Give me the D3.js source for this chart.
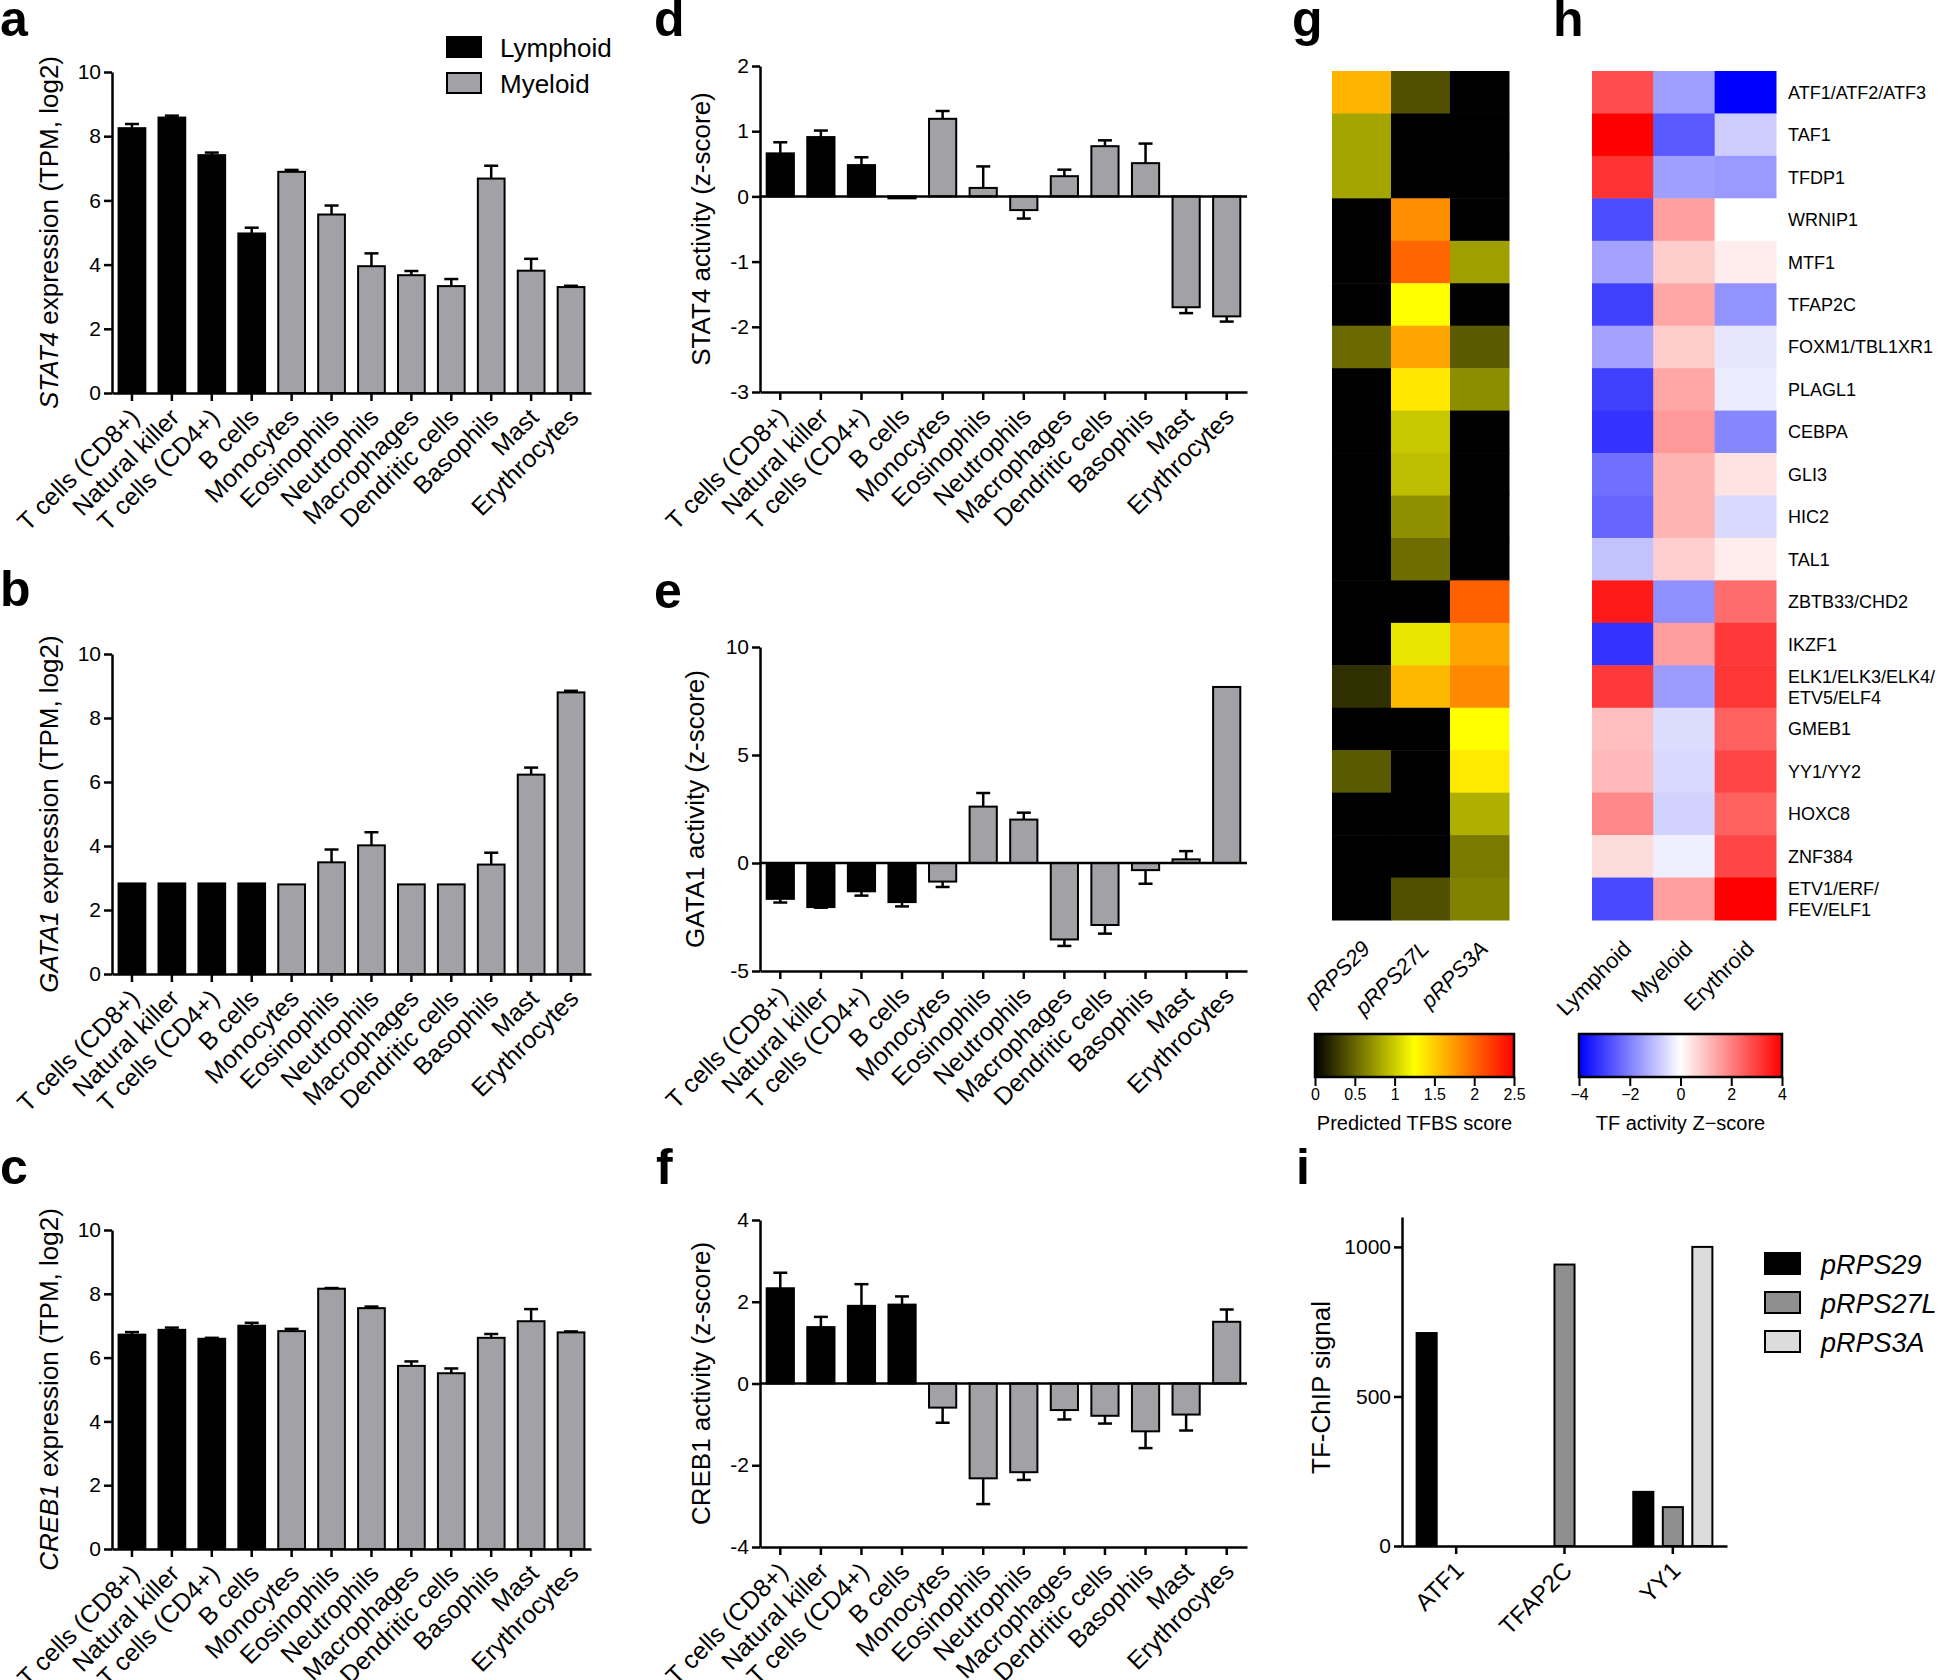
<!DOCTYPE html>
<html>
<head>
<meta charset="utf-8">
<script src="https://cdn.jsdelivr.net/npm/d3@7"></script>
<style>
  body { margin: 0; background: #fff; }
  svg text { font-family: "Liberation Sans", Arial, Helvetica, sans-serif; fill: #000; }
</style>
</head>
<body>
<svg id="fig"></svg>
<script>
// Data
const cellTypes = ["T cells (CD8+)", "Natural killer", "T cells (CD4+)", "B cells", "Monocytes",
  "Eosinophils", "Neutrophils", "Macrophages", "Dendritic cells", "Basophils", "Mast", "Erythrocytes"]
const lineage = ["Lymphoid", "Lymphoid", "Lymphoid", "Lymphoid", "Myeloid", "Myeloid",
  "Myeloid", "Myeloid", "Myeloid", "Myeloid", "Myeloid", "Myeloid"]

const stat4Expr = [8.25, 8.58, 7.41, 4.97, 6.89, 5.56, 3.95, 3.67, 3.33, 6.68, 3.81, 3.30]
const stat4ExprErr = [0.13, 0.06, 0.08, 0.18, 0.06, 0.28, 0.40, 0.13, 0.22, 0.40, 0.37, 0.04]
const gata1Expr = [2.83, 2.83, 2.83, 2.83, 2.80, 3.49, 4.02, 2.80, 2.80, 3.42, 6.23, 8.80]
const gata1ExprErr = [0, 0, 0, 0, 0, 0.40, 0.41, 0, 0, 0.37, 0.22, 0.05]
const creb1Expr = [6.72, 6.87, 6.59, 7.00, 6.83, 8.16, 7.55, 5.74, 5.51, 6.62, 7.14, 6.79]
const creb1ExprErr = [0.08, 0.07, 0.03, 0.09, 0.07, 0.02, 0.05, 0.14, 0.15, 0.12, 0.38, 0.03]

const stat4Act = [0.66, 0.91, 0.48, -0.03, 1.19, 0.13, -0.21, 0.31, 0.77, 0.51, -1.70, -1.84]
const stat4ActErr = [0.17, 0.10, 0.12, 0, 0.12, 0.33, 0.13, 0.10, 0.09, 0.30, 0.09, 0.08]
const gata1Act = [-1.66, -2.04, -1.31, -1.81, -0.86, 2.61, 2.01, -3.54, -2.87, -0.33, 0.17, 8.15]
const gata1ActErr = [0.17, 0.03, 0.20, 0.20, 0.25, 0.63, 0.32, 0.30, 0.40, 0.63, 0.38, 0]
const creb1Act = [2.33, 1.38, 1.90, 1.93, -0.59, -2.32, -2.17, -0.65, -0.79, -1.17, -0.76, 1.51]
const creb1ActErr = [0.38, 0.25, 0.53, 0.20, 0.37, 0.63, 0.19, 0.23, 0.19, 0.41, 0.39, 0.30]

const tfLabels = ["ATF1/ATF2/ATF3", "TAF1", "TFDP1", "WRNIP1", "MTF1", "TFAP2C", "FOXM1/TBL1XR1",
  "PLAGL1", "CEBPA", "GLI3", "HIC2", "TAL1", "ZBTB33/CHD2", "IKZF1", "ELK1/ELK3/ELK4/\nETV5/ELF4",
  "GMEB1", "YY1/YY2", "HOXC8", "ZNF384", "ETV1/ERF/\nFEV/ELF1"]
const promoters = ["pRPS29", "pRPS27L", "pRPS3A"]
const tfbsRPS29 = [1.62, 0.81, 0.81, 0, 0, 0, 0.52, 0, 0, 0, 0, 0, 0, 0, 0.23, 0, 0.44, 0, 0, 0]
const tfbsRPS27L = [0.39, 0, 0, 1.81, 2.0, 1.25, 1.69, 1.37, 0.98, 0.93, 0.70, 0.54, 0, 1.13, 1.6, 0, 0, 0, 0, 0.39]
const tfbsRPS3A = [0, 0, 0, 0, 0.78, 0, 0.44, 0.69, 0, 0, 0, 0, 2.03, 1.69, 1.83, 1.25, 1.36, 0.86, 0.6, 0.63]

const lineages = ["Lymphoid", "Myeloid", "Erythroid"]
const zLymphoid = [2.8, 4.0, 3.2, -2.8, -1.45, -3.0, -1.45, -3.0, -3.2, -2.25, -2.4, -0.95, 3.6, -3.2, 3.1, 1.0, 1.1, 1.85, 0.55, -2.85]
const zMyeloid = [-1.5, -2.6, -1.5, 1.5, 0.8, 1.4, 0.8, 1.4, 1.6, 1.2, 1.2, 0.75, -1.75, 1.55, -1.55, -0.55, -0.6, -0.7, -0.25, 1.5]
const zErythroid = [-4.0, -0.8, -1.6, 0, 0.3, -1.7, -0.4, -0.3, -1.9, 0.45, -0.6, 0.3, 2.3, 3.1, 3.15, 2.5, 2.9, 2.5, 2.9, 4.0]

const chipTFs = ["ATF1", "TFAP2C", "YY1"]
const chipRPS29 = [712, 0, 181]
const chipRPS27L = [0, 941, 130]
const chipRPS3A = [0, 0, 1000]

// Tick labels
const exprTicks = [0, 2, 4, 6, 8, 10]
const stat4ActTicks = [-3, -2, -1, 0, 1, 2]
const gata1ActTicks = [-5, 0, 5, 10]
const creb1ActTicks = [-4, -2, 0, 2, 4]
const chipTicks = [0, 500, 1000]
const tfbsTicks = [0, 0.5, 1, 1.5, 2, 2.5]
const zTicks = [-4, -2, 0, 2, 4]

// Styles
const W = 1943, H = 1680
const lymphColor = "#000000"
const myeloColor = "#a2a2a6"
const chipColors = ["#000000", "#8f8f8f", "#dcdcdc"]
const axisWidth = 2.5

const svg = d3.select("#fig").attr("width", W).attr("height", H)

function styleAxis(sel) {
  sel.selectAll(".domain").attr("stroke", "#000").attr("stroke-width", axisWidth)
  sel.selectAll(".tick line").attr("stroke", "#000").attr("stroke-width", axisWidth)
  sel.selectAll(".tick text").style("font-size", "21px").attr("fill", "#000")
}

function drawBarPanel(opt) {
  const plot = svg.append("g")

  const x = d3.scaleBand()
      .domain(cellTypes)
      .range([opt.left, opt.right])
      .paddingInner(0.33)
      .paddingOuter(0.165)
  const y = d3.scaleLinear()
      .domain(opt.domain)
      .range([opt.bottom, opt.top])

  const data = cellTypes.map((c, i) => ({ name: c, lineage: lineage[i], value: opt.values[i], err: opt.errs[i] }))

  // Bars
  plot.selectAll(".bar")
    .data(data)
    .enter().append("rect")
      .attr("x", d => x(d.name))
      .attr("width", x.bandwidth())
      .attr("y", d => Math.min(y(d.value), y(0)))
      .attr("height", d => Math.abs(y(d.value) - y(0)))
      .attr("fill", d => d.lineage === "Lymphoid" ? lymphColor : myeloColor)
      .attr("stroke", "#000")
      .attr("stroke-width", 2)

  // Error bars (one-sided, away from zero)
  const errData = data.filter(d => d.err > 0)
  const errEnd = d => d.value + (d.value < 0 ? -d.err : d.err)
  plot.selectAll(".err")
    .data(errData)
    .enter().append("line")
      .attr("x1", d => x(d.name) + x.bandwidth() / 2)
      .attr("x2", d => x(d.name) + x.bandwidth() / 2)
      .attr("y1", d => y(d.value))
      .attr("y2", d => y(errEnd(d)))
      .attr("stroke", "#000").attr("stroke-width", 2.5)
  plot.selectAll(".cap")
    .data(errData)
    .enter().append("line")
      .attr("x1", d => x(d.name) + x.bandwidth() / 2 - 7)
      .attr("x2", d => x(d.name) + x.bandwidth() / 2 + 7)
      .attr("y1", d => y(errEnd(d)))
      .attr("y2", d => y(errEnd(d)))
      .attr("stroke", "#000").attr("stroke-width", 2.5)

  // Zero line
  if (opt.domain[0] < 0) {
    plot.append("line")
      .attr("x1", opt.left).attr("x2", opt.right)
      .attr("y1", y(0)).attr("y2", y(0))
      .attr("stroke", "#000").attr("stroke-width", axisWidth)
  }

  // Y axis
  const yAxis = plot.append("g")
      .attr("transform", `translate(${opt.left},0)`)
      .call(d3.axisLeft(y)
        .tickValues(opt.ticks)
        .tickSize(8)
        .tickSizeOuter(0)
        .tickPadding(3)
        .tickFormat(d => String(d)))
  styleAxis(yAxis)

  // X axis
  const xAxis = plot.append("g")
      .attr("transform", `translate(0,${opt.bottom})`)
      .call(d3.axisBottom(x).tickSize(8).tickSizeOuter(0))
  styleAxis(xAxis)
  xAxis.selectAll(".tick text")
      .attr("x", null).attr("y", null).attr("dy", null)
      .attr("transform", "translate(9,26) rotate(-45)")
      .style("text-anchor", "end")
      .style("font-size", "25px")

  // Y title
  const title = plot.append("text")
      .attr("transform", `translate(${opt.titleX},${(opt.top + opt.bottom) / 2}) rotate(-90)`)
      .style("text-anchor", "middle")
      .style("font-size", "26px")
  if (opt.gene) {
    title.append("tspan").style("font-style", "italic").text(opt.gene)
    title.append("tspan").text(opt.title)
  } else {
    title.text(opt.title)
  }
}

// Panels a-c
drawBarPanel({ left: 112, right: 591, top: 72, bottom: 393, domain: [0, 10], ticks: exprTicks,
  values: stat4Expr, errs: stat4ExprErr, gene: "STAT4", title: " expression (TPM, log2)", titleX: 58 })
drawBarPanel({ left: 112, right: 591, top: 654, bottom: 974, domain: [0, 10], ticks: exprTicks,
  values: gata1Expr, errs: gata1ExprErr, gene: "GATA1", title: " expression (TPM, log2)", titleX: 58 })
drawBarPanel({ left: 112, right: 591, top: 1230, bottom: 1549, domain: [0, 10], ticks: exprTicks,
  values: creb1Expr, errs: creb1ExprErr, gene: "CREB1", title: " expression (TPM, log2)", titleX: 58 })

// Panels d-f
drawBarPanel({ left: 760, right: 1247, top: 66, bottom: 392, domain: [-3, 2], ticks: stat4ActTicks,
  values: stat4Act, errs: stat4ActErr, title: "STAT4 activity (z-score)", titleX: 710 })
drawBarPanel({ left: 760, right: 1247, top: 647, bottom: 971, domain: [-5, 10], ticks: gata1ActTicks,
  values: gata1Act, errs: gata1ActErr, title: "GATA1 activity (z-score)", titleX: 704 })
drawBarPanel({ left: 760, right: 1247, top: 1220, bottom: 1547, domain: [-4, 4], ticks: creb1ActTicks,
  values: creb1Act, errs: creb1ActErr, title: "CREB1 activity (z-score)", titleX: 710 })

// Legend for panel a
const legendA = svg.append("g")
const legendItems = ["Lymphoid", "Myeloid"]
legendItems.forEach((name, i) => {
  legendA.append("rect")
    .attr("x", 447).attr("y", 37 + i * 36).attr("width", 34).attr("height", 20)
    .attr("fill", i === 0 ? lymphColor : myeloColor)
    .attr("stroke", "#000").attr("stroke-width", 2)
  legendA.append("text")
    .attr("x", 500).attr("y", 57 + i * 36)
    .style("font-size", "26px")
    .text(name)
})

// Heatmaps g and h
const heatTop = 71, heatBottom = 920
const rowScale = d3.scaleBand().domain(d3.range(tfLabels.length)).range([heatTop, heatBottom])

const tfbsColor = d3.scaleLinear().domain([0, 1.25, 2.5]).range(["#000000", "#ffff00", "#ff0000"]).clamp(true)
const zColor = d3.scaleLinear().domain([-4, 0, 4]).range(["#0000ff", "#ffffff", "#ff0000"]).clamp(true)

function drawHeatmap(columns, columnData, left, right, color, italic) {
  const plot = svg.append("g")
  const colScale = d3.scaleBand().domain(columns).range([left, right])
  columns.forEach((col, c) => {
    plot.selectAll(".cell-" + c)
      .data(columnData[c])
      .enter().append("rect")
        .attr("x", colScale(col))
        .attr("y", (d, r) => rowScale(r))
        .attr("width", colScale.bandwidth() + 0.5)
        .attr("height", rowScale.bandwidth() + 0.5)
        .attr("fill", d => color(d))
  })
  plot.selectAll(".col-label")
    .data(columns)
    .enter().append("text")
      .attr("transform", d => `translate(${colScale(d) + colScale.bandwidth() / 2 + 10},${heatBottom + 30}) rotate(-45)`)
      .style("text-anchor", "end")
      .style("font-size", "22px")
      .style("font-style", italic ? "italic" : "normal")
      .text(d => d)
  return colScale
}

drawHeatmap(promoters, [tfbsRPS29, tfbsRPS27L, tfbsRPS3A], 1332, 1509, tfbsColor, true)
drawHeatmap(lineages, [zLymphoid, zMyeloid, zErythroid], 1592, 1776, zColor, false)

// Row labels for h
const rowLabels = svg.append("g")
tfLabels.forEach((label, r) => {
  const lines = label.split("\n")
  const cy = rowScale(r) + rowScale.bandwidth() / 2
  const t = rowLabels.append("text")
      .attr("x", 1788)
      .attr("y", cy - (lines.length - 1) * 10.5)
      .style("font-size", "18px")
  lines.forEach((line, k) => {
    t.append("tspan").attr("x", 1788).attr("dy", k === 0 ? "0.36em" : "21px").text(line)
  })
})

// Colour bars
function drawColorBar(id, scale, domain, ticks, left, right, title, fmt) {
  const top = 1034, bottom = 1077
  const grad = svg.append("defs").append("linearGradient").attr("id", id)
  d3.range(0, 1.0001, 0.05).forEach(t => {
    grad.append("stop")
      .attr("offset", t)
      .attr("stop-color", scale(domain[0] + t * (domain[1] - domain[0])))
  })
  svg.append("rect")
    .attr("x", left).attr("y", top).attr("width", right - left).attr("height", bottom - top)
    .attr("fill", `url(#${id})`)
    .attr("stroke", "#000").attr("stroke-width", 2.5)
  const xs = d3.scaleLinear().domain(domain).range([left, right])
  const ax = svg.append("g")
      .attr("transform", `translate(0,${bottom})`)
      .call(d3.axisBottom(xs).tickValues(ticks).tickSize(9).tickSizeOuter(0).tickPadding(3).tickFormat(fmt))
  ax.select(".domain").remove()
  ax.selectAll(".tick line").attr("stroke", "#000").attr("stroke-width", 2)
  ax.selectAll(".tick text").style("font-size", "16px").attr("fill", "#000")
  svg.append("text")
    .attr("x", (left + right) / 2).attr("y", 1130)
    .style("text-anchor", "middle")
    .style("font-size", "20px")
    .text(title)
}

drawColorBar("tfbsGrad", tfbsColor, [0, 2.5], tfbsTicks, 1315, 1514, "Predicted TFBS score", d => String(d))
drawColorBar("zGrad", zColor, [-4, 4], zTicks, 1579, 1782, "TF activity Z\u2212score", d => d < 0 ? "\u2212" + Math.abs(d) : String(d))

// Panel i
function drawChipPanel() {
  const plot = svg.append("g")
  const left = 1402, right = 1727, top = 1217, bottom = 1546
  const x0 = d3.scaleBand().domain(chipTFs).range([left, right])
  const x1 = d3.scaleBand().domain(promoters).range([0, x0.bandwidth()]).paddingInner(0.32).paddingOuter(0.495)
  const y = d3.scaleLinear().domain([0, 1100]).range([bottom, top])
  const series = [chipRPS29, chipRPS27L, chipRPS3A]

  promoters.forEach((p, k) => {
    const data = chipTFs.map((tf, i) => ({ tf: tf, value: series[k][i] })).filter(d => d.value > 0)
    plot.selectAll(".chip-" + k)
      .data(data)
      .enter().append("rect")
        .attr("x", d => x0(d.tf) + x1(p))
        .attr("width", x1.bandwidth())
        .attr("y", d => y(d.value))
        .attr("height", d => y(0) - y(d.value))
        .attr("fill", chipColors[k])
        .attr("stroke", "#000").attr("stroke-width", 2)
  })

  const yAxis = plot.append("g")
      .attr("transform", `translate(${left},0)`)
      .call(d3.axisLeft(y).tickValues(chipTicks).tickSize(8).tickSizeOuter(0).tickPadding(3).tickFormat(d => String(d)))
  styleAxis(yAxis)

  const xAxis = plot.append("g")
      .attr("transform", `translate(0,${bottom})`)
      .call(d3.axisBottom(x0).tickSize(8).tickSizeOuter(0))
  styleAxis(xAxis)
  xAxis.selectAll(".tick text")
      .attr("x", null).attr("y", null).attr("dy", null)
      .attr("transform", "translate(9,26) rotate(-45)")
      .style("text-anchor", "end")
      .style("font-size", "24px")

  plot.append("text")
    .attr("transform", `translate(1330,${(top + bottom) / 2 + 6}) rotate(-90)`)
    .style("text-anchor", "middle")
    .style("font-size", "26px")
    .text("TF-ChIP signal")

  // Legend
  promoters.forEach((p, k) => {
    plot.append("rect")
      .attr("x", 1765).attr("y", 1253 + k * 39).attr("width", 35).attr("height", 21)
      .attr("fill", chipColors[k])
      .attr("stroke", "#000").attr("stroke-width", 2)
    plot.append("text")
      .attr("x", 1821).attr("y", 1274 + k * 39)
      .style("font-size", "27px")
      .style("font-style", "italic")
      .text(p)
  })
}
drawChipPanel()

// Panel letters
const panelLetters = [
  { t: "a", x: 0, y: 36 }, { t: "d", x: 654, y: 36 }, { t: "g", x: 1292, y: 36 }, { t: "h", x: 1553, y: 36 },
  { t: "b", x: 0, y: 606 }, { t: "e", x: 654, y: 608 },
  { t: "c", x: 0, y: 1184 }, { t: "f", x: 656, y: 1184 }, { t: "i", x: 1296, y: 1184 }
]
svg.selectAll(".panel-letter")
  .data(panelLetters)
  .enter().append("text")
    .attr("x", d => d.x).attr("y", d => d.y)
    .style("font-size", "50px")
    .style("font-weight", "bold")
    .text(d => d.t)
</script>
</body>
</html>
